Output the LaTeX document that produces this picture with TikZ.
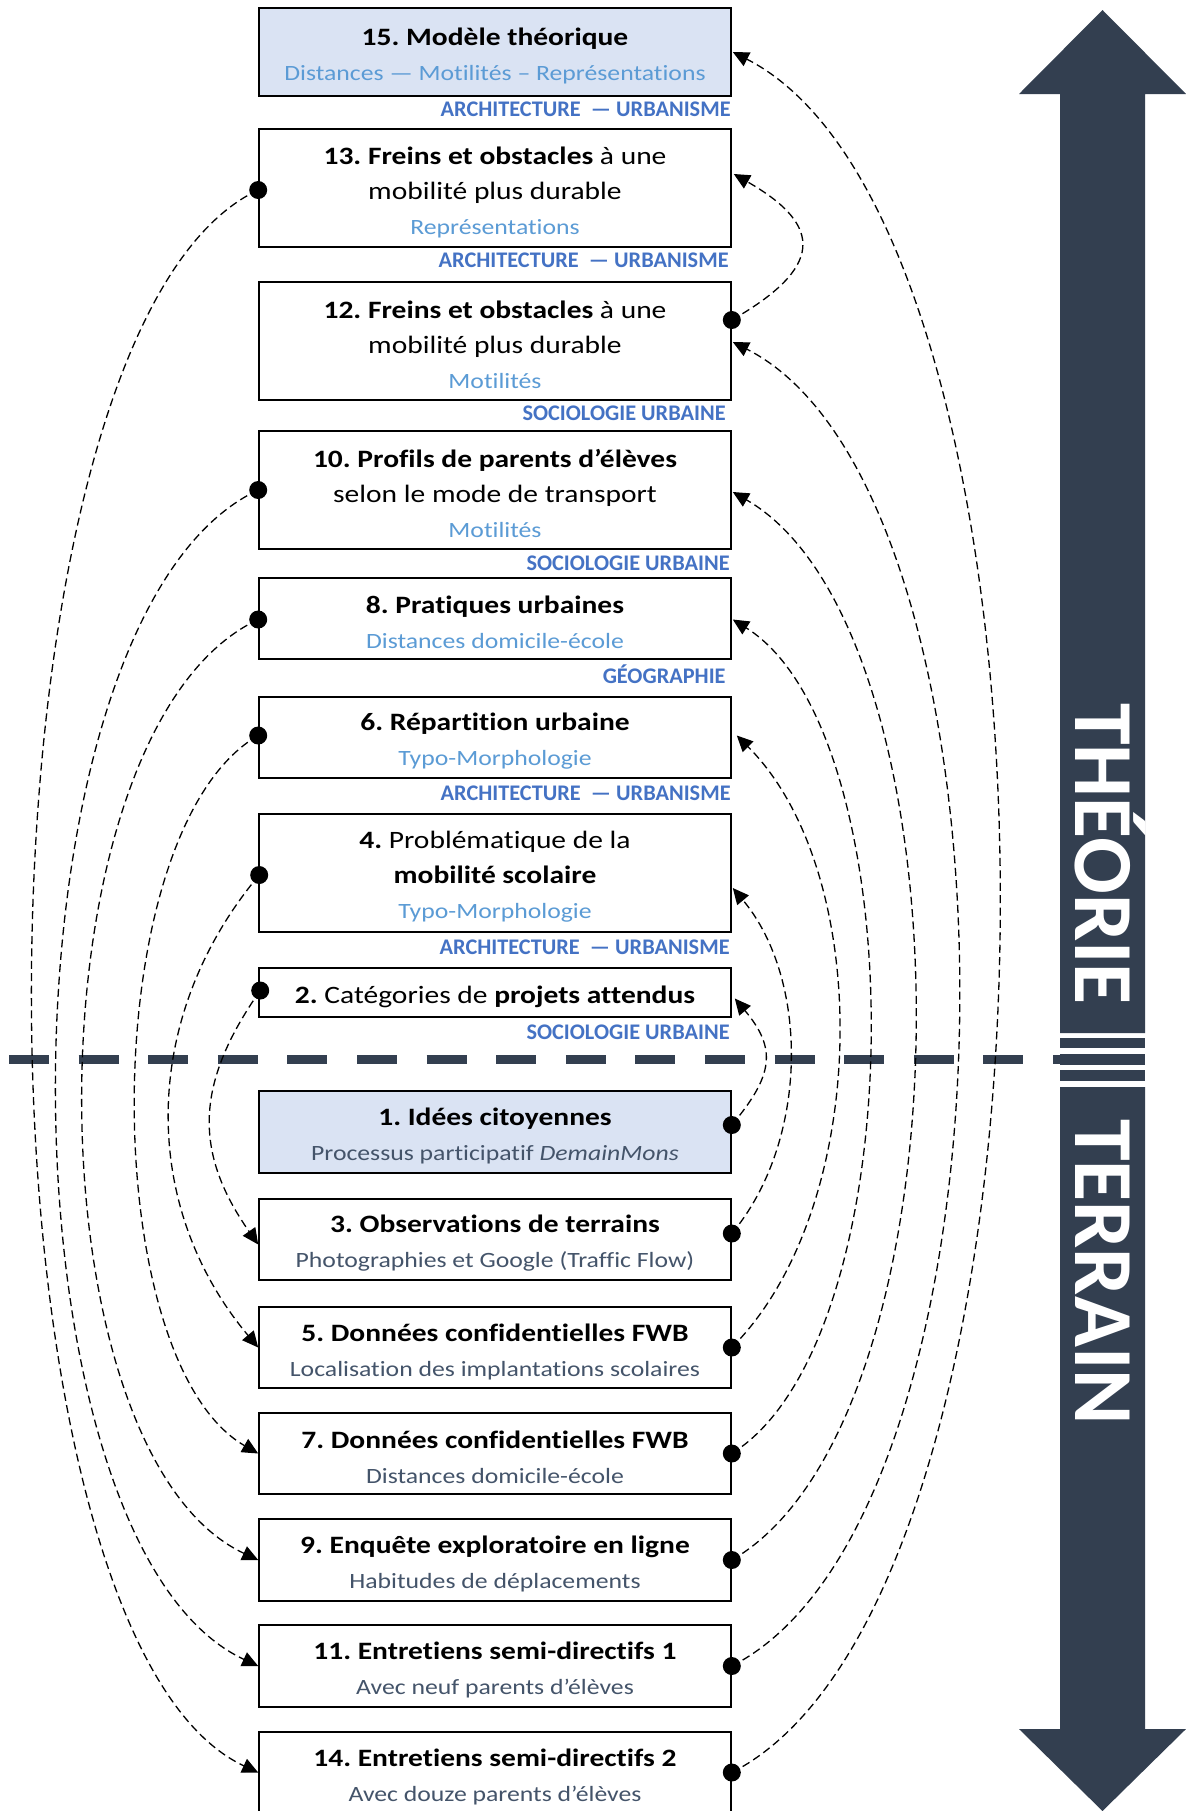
\documentclass[tikz,border=0pt]{standalone}
\usepackage{fontspec}
\setmainfont[Ligatures=NoCommon]{Carlito}
\newfontfamily\boxfont[FakeStretch=1.18,Ligatures=NoCommon]{Carlito}
\usetikzlibrary{arrows.meta,calc}
\frenchspacing
\definecolor{lightfill}{HTML}{DAE3F3}
\definecolor{subblue}{HTML}{5B9BD5}
\definecolor{discblue}{HTML}{4472C4}
\definecolor{subgray}{HTML}{44546A}
\definecolor{navy}{HTML}{333F50}
\newcommand\sbl[1]{{\fontsize{10.9pt}{17.5pt}\selectfont\color{subblue}#1}}
\newcommand\sgr[1]{{\fontsize{10.9pt}{17.5pt}\selectfont\color{subgray}#1}}
\newcommand\tstrut{\rule{0pt}{12.8pt}}
\tikzset{
  box/.style={draw=black, line width=0.8pt, minimum width=236pt, inner sep=0pt, align=center, fill=white,
    font=\boxfont\fontsize{12.5pt}{17.5pt}\selectfont\frenchspacing},
  hlbox/.style={box, fill=lightfill},
  disc/.style={anchor=base east, inner sep=0pt, text=discblue, font=\fontsize{11.15pt}{13pt}\selectfont\bfseries},
  conn/.style={line width=0.65pt, dash pattern=on 4pt off 2.2pt, -{Triangle[length=8pt,width=7.5pt]}},
  vlabel/.style={rotate=-90, anchor=base, inner sep=0pt, text=white, font=\fontsize{42pt}{50pt}\selectfont\bfseries},
}
\begin{document}
\begin{tikzpicture}[x=0.5pt,y=-0.5pt]
\useasboundingbox (0,0) rectangle (1186,1811);
\fill[white] (0,0) rectangle (1186,1811);

% big double arrow
\fill[navy] (1102.5,10) -- (1186,94) -- (1145,94) -- (1145,1033) -- (1060,1033) -- (1060,94) -- (1019,94) -- cycle;
\fill[navy] (1060,1038) rectangle (1145,1048);
\fill[navy] (1060,1054) rectangle (1145,1065);
\fill[navy] (1060,1070) rectangle (1145,1081);
\fill[navy] (1060,1087) -- (1145,1087) -- (1145,1729) -- (1186,1729) -- (1102.5,1811) -- (1019,1729) -- (1060,1729) -- cycle;
\node[vlabel] (theo) at (1075,854) {THÉORIE};
\node[vlabel] (terr) at (1075,1272) {TERRAIN};

% separator
\draw[navy, line width=4.5pt, dash pattern=on 20pt off 14.8pt] (9,1059.5) -- (1060,1059.5);

% boxes
\node[hlbox, minimum height=44pt] (b15) at (495,52) {\tstrut\textbf{15. Modèle théorique}\\\sbl{Distances — Motilités – Représentations}};
\node[box, minimum height=59pt] (b13) at (495,188) {\tstrut\textbf{13. Freins et obstacles} à une\\mobilité plus durable\\\sbl{Représentations}};
\node[box, minimum height=59pt] (b12) at (495,341) {\tstrut\textbf{12. Freins et obstacles} à une\\mobilité plus durable\\\sbl{Motilités}};
\node[box, minimum height=59pt] (b10) at (495,490) {\tstrut\textbf{10. Profils de parents d’élèves}\\selon le mode de transport\\\sbl{Motilités}};
\node[box, minimum height=40.5pt] (b8) at (495,618.5) {\tstrut\textbf{8. Pratiques urbaines}\\\sbl{Distances domicile-école}};
\node[box, minimum height=40.5pt] (b6) at (495,737.5) {\tstrut\textbf{6. Répartition urbaine}\\\sbl{Typo-Morphologie}};
\node[box, minimum height=59pt] (b4) at (495,873) {\tstrut\textbf{4.} Problématique de la\\\textbf{mobilité scolaire}\\\sbl{Typo-Morphologie}};
\node[box, minimum height=24.5pt] (b2) at (495,992.5) {\tstrut\textbf{2.} Catégories de \textbf{projets attendus}};
\node[hlbox, minimum height=41pt] (b1) at (495,1132) {\tstrut\textbf{1. Idées citoyennes}\\\sgr{Processus participatif \textit{DemainMons}}};
\node[box, minimum height=40.5pt] (b3) at (495,1239.5) {\tstrut\textbf{3. Observations de terrains}\\\sgr{Photographies et Google (Traffic Flow)}};
\node[box, minimum height=40.5pt] (b5) at (495,1347.5) {\tstrut\textbf{5. Données confidentielles FWB}\\\sgr{Localisation des implantations scolaires}};
\node[box, minimum height=40.5pt] (b7) at (495,1453.5) {\tstrut\textbf{7. Données confidentielles FWB}\\\sgr{Distances domicile-école}};
\node[box, minimum height=41pt] (b9) at (495,1560) {\tstrut\textbf{9. Enquête exploratoire en ligne}\\\sgr{Habitudes de déplacements}};
\node[box, minimum height=41pt] (b11) at (495,1666) {\tstrut\textbf{11. Entretiens semi-directifs 1}\\\sgr{Avec neuf parents d’élèves}};
\node[box, minimum height=40.5pt] (b14) at (495,1772.5) {\tstrut\textbf{14. Entretiens semi-directifs 2}\\\sgr{Avec douze parents d’élèves}};

% discipline labels
\node[disc] (d15) at (731,116) {ARCHITECTURE\hspace{2.5pt} — URBANISME};
\node[disc] (d13) at (729,267) {ARCHITECTURE\hspace{2.5pt} — URBANISME};
\node[disc] (d12) at (726,420) {SOCIOLOGIE URBAINE};
\node[disc] (d10) at (730,570) {SOCIOLOGIE URBAINE};
\node[disc] (d8) at (726,683) {GÉOGRAPHIE};
\node[disc] (d6) at (731,800) {ARCHITECTURE\hspace{2.5pt} — URBANISME};
\node[disc] (d4) at (730,954) {ARCHITECTURE\hspace{2.5pt} — URBANISME};
\node[disc] (d2) at (730,1039) {SOCIOLOGIE URBAINE};

% connector end points
\coordinate (r1) at ($(b1.east)+(0,-7)$);
\coordinate (r3) at ($(b3.east)+(0,-6)$);
\coordinate (r5) at (b5.east);
\coordinate (r7) at (b7.east);
\coordinate (r9) at (b9.east);
\coordinate (r11) at (b11.east);
\coordinate (r14) at (b14.east);
\coordinate (r12) at ($(b12.east)+(0,-21)$);
\coordinate (a2) at ($(b2.east)+(3,6)$);
\coordinate (a4) at ($(b4.east)+(1,15)$);
\coordinate (a6) at ($(b6.east)+(5,-2)$);
\coordinate (a8) at ($(b8.east)+(1,1)$);
\coordinate (a10) at ($(b10.east)+(1,2)$);
\coordinate (a12) at ($(b12.east)+(1,1)$);
\coordinate (a15) at ($(b15.east)+(1,0)$);
\coordinate (a13) at ($(b13.east)+(2,-14)$);
\coordinate (l13) at ($(b13.west)+(0,2)$);
\coordinate (l10) at (b10.west);
\coordinate (l8) at ($(b8.west)+(0,1)$);
\coordinate (l6) at ($(b6.west)+(0,-2)$);
\coordinate (l4) at ($(b4.west)+(1,2)$);
\coordinate (l2) at ($(b2.west)+(2,-2)$);
\coordinate (m3) at ($(b3.west)+(0,5)$);
\coordinate (m5) at (b5.west);
\coordinate (m7) at (b7.west);
\coordinate (m9) at (b9.west);
\coordinate (m11) at (b11.west);
\coordinate (m14) at (b14.west);

% right side connectors
\draw[conn] (r1) .. controls +(42,-50) and +(42,50) .. (a2);
\draw[conn] (r3) .. controls +(77,-92) and +(77,92) .. (a4);
\draw[conn] (r5) .. controls +(139,-139) and +(139,139) .. (a6);
\draw[conn] (r7) .. controls +(183,-114) and +(183,114) .. (a8);
\draw[conn] (r9) .. controls +(243,-140) and +(243,140) .. (a10);
\draw[conn] (r11) .. controls +(301,-153) and +(301,153) .. (a12);
\draw[conn] (r14) .. controls +(355,-181) and +(355,181) .. (a15);
\draw[conn] (r12) .. controls +(91,-52) and +(91,52) .. (a13);
% left side connectors
\draw[conn] (l2) .. controls +(-65,93) and +(-65,-93) .. (m3);
\draw[conn] (l4) .. controls +(-119,142) and +(-119,-142) .. (m5);
\draw[conn] (l6) .. controls +(-163,94) and +(-163,-94) .. (m7);
\draw[conn] (l8) .. controls +(-233,109) and +(-233,-109) .. (m9);
\draw[conn] (l10) .. controls +(-268,125) and +(-268,-125) .. (m11);
\draw[conn] (l13) .. controls +(-300,140) and +(-300,-140) .. (m14);

% dots
\foreach \p in {r1,r3,r5,r7,r9,r11,r14,r12,l2,l4,l6,l8,l10,l13}
  \fill (\p) circle[radius=4.5pt];
\end{tikzpicture}
\end{document}
